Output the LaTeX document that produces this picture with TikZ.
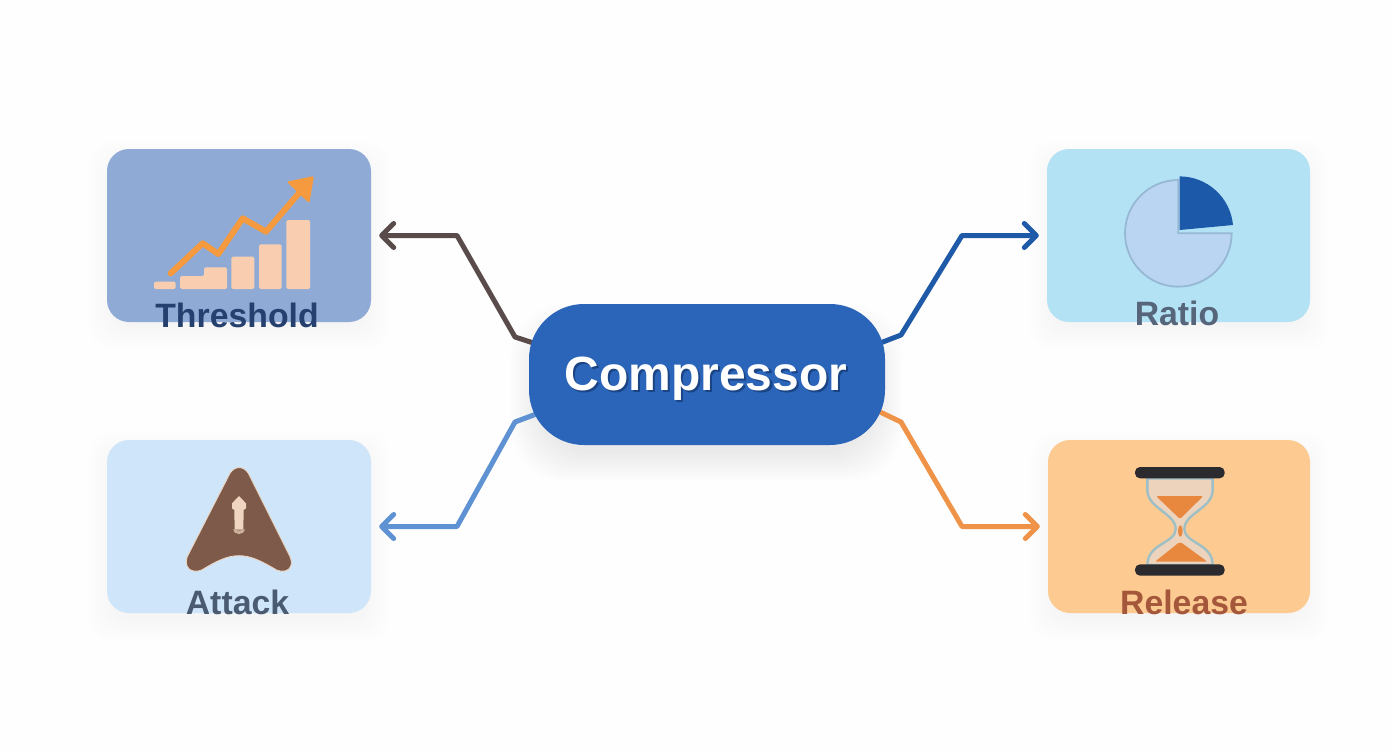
\documentclass[tikz,border=0pt]{standalone}
\usepackage{fontspec}
\setmainfont{Liberation Sans}
\usetikzlibrary{arrows.meta,calc}
\pgfdeclarelayer{back}
\pgfsetlayers{back,main}
\definecolor{bgc}{HTML}{FEFEFE}
\definecolor{thrfill}{HTML}{8FABD5}
\definecolor{attfill}{HTML}{CFE5FA}
\definecolor{ratfill}{HTML}{B3E2F5}
\definecolor{relfill}{HTML}{FDCB92}
\definecolor{compfill}{HTML}{2B65BA}
\definecolor{thrtxt}{HTML}{25406F}
\definecolor{atttxt}{HTML}{4A5A70}
\definecolor{rattxt}{HTML}{56657A}
\definecolor{reltxt}{HTML}{A4573A}
\definecolor{cdark}{HTML}{5A4B4B}
\definecolor{cblue}{HTML}{1F5AA8}
\definecolor{clight}{HTML}{5E92D2}
\definecolor{corange}{HTML}{EF9348}
\definecolor{barc}{HTML}{F8CDB0}
\definecolor{linec}{HTML}{F59A3E}
\definecolor{brownc}{HTML}{7D5A49}
\definecolor{creamc}{HTML}{F0D6C0}
\definecolor{piefill}{HTML}{BAD5F2}
\definecolor{piebord}{HTML}{97B8D4}
\definecolor{pieslice}{HTML}{1C59A8}
\definecolor{barblack}{HTML}{2B2A2E}
\definecolor{glassc}{HTML}{EDD3BC}
\definecolor{glassb}{HTML}{9FBFC6}
\definecolor{sandc}{HTML}{E8883F}
\definecolor{shad}{HTML}{1B4484}
\newcommand{\softtext}[1]{\leavevmode\rlap{\kern2.2pt\raisebox{-2.6pt}{\textcolor{shad}{#1}}}\textcolor{white}{#1}}
\tikzset{
  card/.style={inner sep=0pt,rounded corners=22pt,minimum width=#1,minimum height=173pt},
  cardlabel/.style={anchor=base,font=\bfseries\fontsize{33.8}{34}\selectfont,inner sep=0pt},
  link/.style={line width=5pt,line join=round,-{Straight Barb[length=12pt,width=24pt,round]}},
}
\newcommand{\softbox}[7]{% x0 y0 x1 y1 radius opacity yoffset
  \foreach \s in {-9,-6,...,18}{
    \fill[black,opacity=#6,rounded corners=#5]
      ({#1-\s},{#2-\s+#7}) rectangle ({#3+\s},{#4+\s+#7});
  }
}
\begin{document}
\begin{tikzpicture}[x=1pt,y=-1pt]
\useasboundingbox (0,0) rectangle (1392,752);

\node[card=264pt,fill=thrfill] (thr) at (239,235.5) {};
\node[card=264pt,fill=attfill] (att) at (239,526.5) {};
\node[card=263pt,fill=ratfill] (rat) at (1178.5,235.5) {};
\node[card=262pt,fill=relfill] (rel) at (1179,526.5) {};
\node[inner sep=0pt,rounded corners=55pt,minimum width=356pt,minimum height=141pt,fill=compfill] (comp) at (707,374.5) {};

\begin{pgfonlayer}{back}
\fill[bgc] (0,0) rectangle (1392,752);
\softbox{107}{149}{371}{322}{22pt}{.0035}{10}
\softbox{107}{440}{371}{613}{22pt}{.0035}{10}
\softbox{1047}{149}{1310}{322}{22pt}{.0035}{10}
\softbox{1048}{440}{1310}{613}{22pt}{.0035}{10}
\softbox{529}{304}{885}{445}{55pt}{.006}{18}
\coordinate (a1) at ($(comp.center)+(-172,-31)$);
\coordinate (a2) at ($(comp.center)+(172,-31)$);
\coordinate (a3) at ($(comp.center)+(-172,40)$);
\coordinate (a4) at ($(comp.center)+(172,37)$);
\coordinate (e1) at ($(thr.east)+(8,0)$);
\coordinate (e2) at ($(rat.west)+(-8,0)$);
\coordinate (e3) at ($(att.east)+(8,0)$);
\coordinate (e4) at ($(rel.west)+(-8,0)$);
\draw[link,cdark] (a1) -- (515,337) -- (457,235.5) -- (e1);
\draw[link,cblue] (a2) -- (901,335) -- (962,235.5) -- (e2);
\draw[link,clight] (a3) -- (515,422) -- (457,526.5) -- (e3);
\draw[link,corange] (a4) -- (901,422) -- (962,526.5) -- (e4);
\end{pgfonlayer}

% Threshold icon
\begin{scope}[shift={(90,130)},x=.33333pt,y=-.33333pt]
\fill[barc,rounded corners=2pt] (192,455) rectangle (257,477);
\fill[barc,rounded corners=1.5pt] (270,477) -- (270,438) -- (342,438) -- (342,412) -- (411,412) -- (411,477) -- cycle;
\fill[barc,rounded corners=1.5pt] (424,380) rectangle (493,477);
\fill[barc,rounded corners=1.5pt] (507,343) rectangle (575,477);
\fill[barc,rounded corners=1.5pt] (589,270) rectangle (660,477);
\draw[linec,line width=6pt,line join=round,line cap=round] (242,430) -- (338,340) -- (385,372) -- (458,265) -- (528,305) -- (635,180);
\fill[linec,rounded corners=1.5pt] (672,138) -- (590,155) -- (658,220) -- cycle;
\end{scope}

% Attack icon
\begin{scope}[shift={(90,425)},x=.33333pt,y=-.33333pt]
\filldraw[brownc,draw=creamc,line width=.8pt]
  (420,145) .. controls (435,122) and (460,122) .. (475,145)
  -- (600,395) .. controls (614,428) and (590,447) .. (560,435)
  .. controls (510,405) and (480,392) .. (447,392)
  .. controls (414,392) and (384,405) .. (335,435)
  .. controls (305,447) and (280,428) .. (292,395) -- cycle;
\fill[creamc] (447,213) -- (468,235) -- (468,250) -- (461,255) -- (460,314) -- (434,314) -- (433,255) -- (426,250) -- (426,235) -- cycle;
\fill[creamc!70!brownc] (430,312) .. controls (440,318) and (454,318) .. (464,312) .. controls (464,332) and (430,332) .. (430,312) -- cycle;
\end{scope}

% Ratio icon
\begin{scope}[shift={(1030,130)},x=.33333pt,y=-.33333pt]
\filldraw[piefill,draw=piebord,line width=1.8pt] (445,310) -- (605,310) arc[start angle=0,end angle=270,radius=160] -- cycle;
\fill[pieslice] (449,300) -- (609,285) arc[start angle=-5.4,end angle=-90,radius=161] -- cycle;
\end{scope}

% Release icon
\begin{scope}[shift={(1030,425)},x=.33333pt,y=-.33333pt]
\filldraw[glassc,draw=glassb,line width=2.4pt] (352,160) -- (352,195)
  .. controls (352,250) and (437,265) .. (437,312)
  .. controls (437,355) and (352,355) .. (352,420)
  -- (548,420) .. controls (548,355) and (463,355) .. (463,312)
  .. controls (463,265) and (548,250) .. (548,195) -- (548,160) -- cycle;
\fill[sandc,rounded corners=2pt] (378,213) -- (520,213) -- (450,282) -- cycle;
\fill[sandc] (451,318) ellipse [x radius=7,y radius=17];
\fill[sandc,rounded corners=2pt] (450,350) -- (532,410) -- (375,410) -- cycle;
\fill[barblack,rounded corners=5pt] (315,126) rectangle (584,160);
\fill[barblack,rounded corners=5pt] (315,418) rectangle (584,452);
\end{scope}

% labels
\node[cardlabel,text=thrtxt] (tthr) at (237,327) {Threshold};
\node[cardlabel,text=atttxt] (tatt) at (237.5,614) {Attack};
\node[cardlabel,text=rattxt] (trat) at (1177,325) {Ratio};
\node[cardlabel,text=reltxt] (trel) at (1184,614) {Release};
\node[anchor=base,inner sep=0pt,font=\bfseries\fontsize{48}{48}\selectfont] (tcomp) at (706,390) {\softtext{Compressor}};
\end{tikzpicture}
\end{document}
